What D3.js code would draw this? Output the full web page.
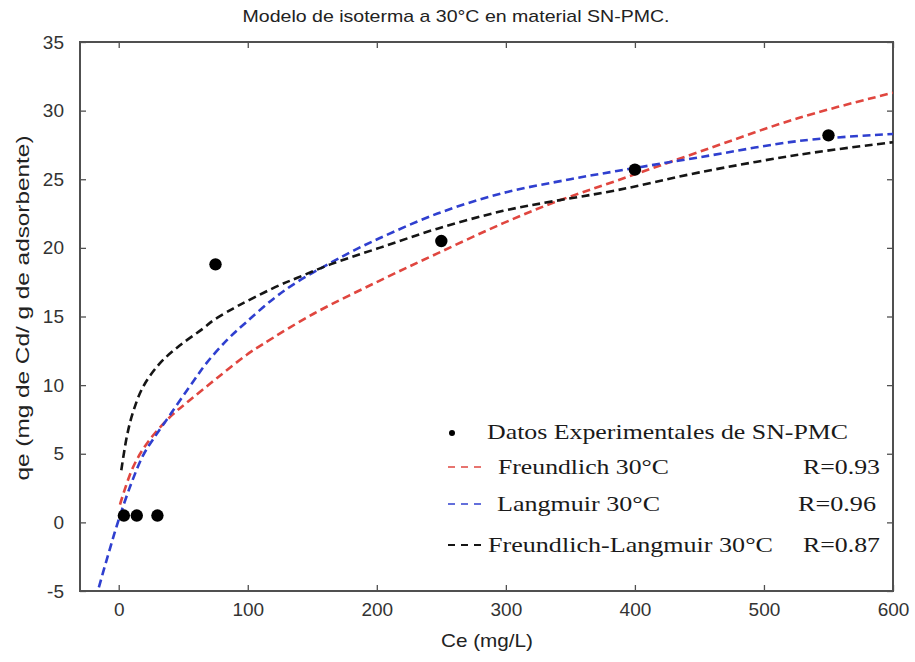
<!DOCTYPE html>
<html>
<head>
<meta charset="utf-8">
<script src="https://cdn.jsdelivr.net/npm/d3@7"></script>
<style>
  html, body { margin: 0; padding: 0; background: #fff; }
  svg { display: block; }
</style>
</head>
<body>
<svg id="chart" width="915" height="662"></svg>
<script>
// Experimental equilibrium points (Ce mg/L, qe mg/g)
const expCe = [4, 14, 30, 75, 250, 400, 550];
const expQe = [0.5, 0.5, 0.5, 18.8, 20.5, 25.7, 28.2];

// Fitted model curves, sampled as [Ce, qe]
const freundlich = [[1,1.3],[11,4.0],[23,5.9],[40,7.7],[55,8.9],[76,10.5],[99,12.2],[112,13.0],
  [151,15.2],[202,17.6],[247,19.6],[298,21.8],[337,23.3],[386,24.9],[450,27.0],[528,29.5],[600,31.3]];
const langmuir = [[-18,-5.6],[-8,-2.3],[0,0.2],[10,2.9],[19,4.9],[27,6.1],[41,8.0],[58,10.3],[68,11.6],
  [84,13.3],[99,14.6],[120,16.3],[138,17.5],[164,18.9],[182,19.8],[202,20.7],[247,22.5],[298,24.0],
  [350,25.0],[386,25.6],[450,26.6],[528,27.8],[600,28.3]];
const freundlichLangmuir = [[2,3.8],[6.4,6.3],[11,8.0],[19,9.9],[32,11.6],[47.5,12.9],[65,14.1],[73,14.7],
  [89,15.6],[99,16.1],[125,17.3],[138,17.8],[164,18.8],[202,20.0],[247,21.4],[298,22.7],[337,23.4],
  [386,24.2],[450,25.5],[528,26.8],[600,27.7]];

const xTicks = [0, 100, 200, 300, 400, 500, 600];
const yTicks = [-5, 0, 5, 10, 15, 20, 25, 30, 35];

const titleText = "Modelo de isoterma a 30°C en material SN-PMC.";
const xLabel = "Ce (mg/L)";
const yLabel = "qe (mg de Cd/ g de adsorbente)";

const legendRows = [
  { label: "Datos Experimentales  de SN-PMC", r: "", color: "#000", kind: "dot" },
  { label: "Freundlich 30°C", r: "R=0.93", color: "#e0463f", kind: "line" },
  { label: "Langmuir 30°C", r: "R=0.96", color: "#2f3fcf", kind: "line" },
  { label: "Freundlich-Langmuir  30°C", r: "R=0.87", color: "#151515", kind: "line" }
];

const svg = d3.select("#chart");
const plot = { left: 80, right: 893, top: 42, bottom: 591 };

const x = d3.scaleLinear().domain([-30, 600]).range([plot.left, plot.right]);
const y = d3.scaleLinear().domain([-5, 35]).range([plot.bottom, plot.top]);

const axisColor = "#505050";
const tickFont = "'Liberation Sans', Arial, sans-serif";
const plainNum = d => String(d);

// Title
svg.append("text")
  .attr("x", 456).attr("y", 22)
  .attr("text-anchor", "middle")
  .attr("font-family", tickFont).attr("font-size", 17)
  .attr("fill", "#222")
  .attr("textLength", 427).attr("lengthAdjust", "spacingAndGlyphs")
  .text(titleText);

// Clip region for curves
svg.append("defs").append("clipPath").attr("id", "plotClip")
  .append("rect")
  .attr("x", plot.left).attr("y", plot.top)
  .attr("width", plot.right - plot.left).attr("height", plot.bottom - plot.top);

// Axes (ticks point inward), mirrored on the opposite sides
const tickLen = 6;
svg.append("g").attr("transform", `translate(0,${plot.bottom})`)
  .call(d3.axisBottom(x).tickValues(xTicks).tickFormat(plainNum).tickSizeInner(-tickLen).tickSizeOuter(0).tickPadding(12))
  .call(g => g.selectAll("text").attr("font-size", 19).attr("font-family", tickFont).attr("fill", "#333"));
svg.append("g").attr("transform", `translate(0,${plot.top})`)
  .call(d3.axisTop(x).tickValues(xTicks).tickSizeInner(-tickLen).tickSizeOuter(0).tickFormat(""));
svg.append("g").attr("transform", `translate(${plot.left},0)`)
  .call(d3.axisLeft(y).tickValues(yTicks).tickFormat(plainNum).tickSizeInner(-tickLen).tickSizeOuter(0).tickPadding(16))
  .call(g => g.selectAll("text").attr("font-size", 19).attr("font-family", tickFont).attr("fill", "#333"));
svg.append("g").attr("transform", `translate(${plot.right},0)`)
  .call(d3.axisRight(y).tickValues(yTicks).tickSizeInner(-tickLen).tickSizeOuter(0).tickFormat(""));

svg.selectAll(".domain").remove();
svg.selectAll(".tick line").attr("stroke", axisColor).attr("stroke-width", 1.3);

// Frame
svg.append("rect")
  .attr("x", plot.left).attr("y", plot.top)
  .attr("width", plot.right - plot.left).attr("height", plot.bottom - plot.top)
  .attr("fill", "none").attr("stroke", axisColor).attr("stroke-width", 2);

// Axis labels
svg.append("text")
  .attr("x", 487).attr("y", 647)
  .attr("text-anchor", "middle")
  .attr("font-family", tickFont).attr("font-size", 19).attr("fill", "#222")
  .attr("textLength", 92).attr("lengthAdjust", "spacingAndGlyphs")
  .text(xLabel);

svg.append("text")
  .attr("transform", "translate(29,308) rotate(-90)")
  .attr("text-anchor", "middle")
  .attr("font-family", tickFont).attr("font-size", 19).attr("fill", "#222")
  .attr("textLength", 345).attr("lengthAdjust", "spacingAndGlyphs")
  .text(yLabel);

// Model curves
const line = d3.line().x(d => x(d[0])).y(d => y(d[1])).curve(d3.curveCatmullRom.alpha(0.5));
const curves = svg.append("g").attr("clip-path", "url(#plotClip)");
[[freundlich, legendRows[1].color], [langmuir, legendRows[2].color], [freundlichLangmuir, legendRows[3].color]]
  .forEach(([data, color]) => {
    curves.append("path")
      .datum(data)
      .attr("d", line)
      .attr("fill", "none")
      .attr("stroke", color)
      .attr("stroke-width", 2.6)
      .attr("stroke-dasharray", "8,4.5");
  });

// Experimental points
svg.append("g").selectAll("circle")
  .data(expCe.map((c, i) => [c, expQe[i]]))
  .join("circle")
  .attr("cx", d => x(d[0])).attr("cy", d => y(d[1]))
  .attr("r", 6.2)
  .attr("fill", "#000");

// Legend
const serif = "'Liberation Serif', 'Times New Roman', serif";
const legend = svg.append("g");
const rowBase = [439, 474, 511, 552];
const labelPos = [[487, 361], [498, 171], [497, 163], [488, 285]];
const rPos = [null, [803, 77], [798, 78], [803, 77]];

legendRows.forEach((row, i) => {
  const base = rowBase[i];
  if (row.kind === "dot") {
    legend.append("circle").attr("cx", 452).attr("cy", base - 6).attr("r", 3).attr("fill", "#000");
  } else {
    legend.append("line")
      .attr("x1", 448).attr("x2", 481)
      .attr("y1", base - 7).attr("y2", base - 7)
      .attr("stroke", row.color).attr("stroke-width", 2)
      .attr("stroke-dasharray", "7,6")
      .attr("opacity", i === 3 ? 1 : 0.75);
  }
  legend.append("text")
    .attr("x", labelPos[i][0]).attr("y", base)
    .attr("font-family", serif).attr("font-size", 21).attr("fill", "#1a1a1a")
    .attr("textLength", labelPos[i][1]).attr("lengthAdjust", "spacingAndGlyphs")
    .text(row.label);
  if (row.r) {
    legend.append("text")
      .attr("x", rPos[i][0]).attr("y", base)
      .attr("font-family", serif).attr("font-size", 21).attr("fill", "#1a1a1a")
      .attr("textLength", rPos[i][1]).attr("lengthAdjust", "spacingAndGlyphs")
      .text(row.r);
  }
});
</script>
</body>
</html>
